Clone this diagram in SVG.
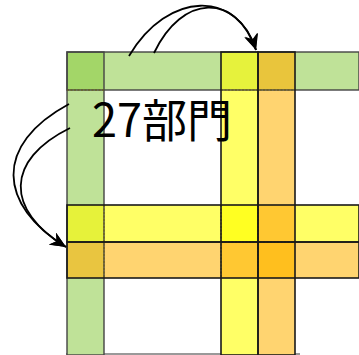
<svg xmlns="http://www.w3.org/2000/svg" width="359" height="355" viewBox="0 0 359 355">
<style>
.g{fill:#bfe298}
.y{fill:#ffff66}
.o{fill:#ffd470}
.bd{fill:none;stroke:#1a1a1a;stroke-width:1.6}
.gb{fill:none;stroke:#444;stroke-width:1.4}
.dot{fill:none;stroke:#6a5a10;stroke-width:1;stroke-dasharray:2 1.5}
.arr{fill:none;stroke:#000;stroke-width:1.8}
.lbl{font-family:"Noto Sans CJK JP","Noto Sans",sans-serif;font-size:46px;fill:#000}
</style>
<defs>
<marker id="ah" markerUnits="userSpaceOnUse" markerWidth="17" markerHeight="14" refX="16" refY="7" orient="auto">
<path d="M0,0 L16,7 L0,14 L5,7 z" fill="#000"/>
</marker>
</defs>
<line x1="66" y1="354" x2="300" y2="354" stroke="#777" stroke-width="1.5"/>
<g id="green-bars">
<rect class="g" x="67" y="52" width="292" height="38"/>
<rect class="g" x="67" y="52" width="37" height="303"/>
<rect x="67" y="52" width="37" height="38" fill="#a3d668"/>
</g>
<g id="yellow-h">
<rect class="y" x="67" y="205" width="292" height="37"/>
</g>
<g id="orange-h">
<rect class="o" x="67" y="242" width="292" height="36"/>
</g>
<g id="yellow-v">
<rect class="y" x="221" y="52" width="37" height="303"/>
</g>
<g id="orange-v">
<rect class="o" x="258" y="52" width="37" height="303"/>
</g>
<g id="overlaps">
<rect x="221" y="52" width="37" height="38" fill="#e6f23c"/>
<rect x="258" y="52" width="37" height="38" fill="#e9c53c"/>
<rect x="67" y="205" width="37" height="37" fill="#e6f23a"/>
<rect x="67" y="242" width="37" height="36" fill="#e9c540"/>
<rect x="221" y="205" width="37" height="37" fill="#ffff22"/>
<rect x="258" y="205" width="37" height="37" fill="#ffc832"/>
<rect x="221" y="242" width="37" height="36" fill="#ffc832"/>
<rect x="258" y="242" width="37" height="36" fill="#ffbf1e"/>
</g>
<g id="outlines">
<rect class="gb" x="67" y="52" width="37" height="303"/>
<rect class="gb" x="67" y="52" width="292" height="38"/>
<line class="dot" x1="67" y1="90" x2="104" y2="90"/>
<line class="dot" x1="221" y1="90" x2="295" y2="90"/>
<line class="dot" x1="104" y1="205" x2="104" y2="278"/>
<line class="dot" x1="221" y1="205" x2="221" y2="278"/>
<line class="dot" x1="258" y1="205" x2="258" y2="278"/>
<line class="dot" x1="221" y1="242" x2="295" y2="242"/>
<rect class="bd" x="67" y="205" width="292" height="37"/>
<rect class="bd" x="67" y="242" width="292" height="36"/>
<rect class="bd" x="221" y="52" width="37" height="303"/>
<rect class="bd" x="258" y="52" width="37" height="303"/>
</g>
<g id="label">
<text class="lbl" x="92" y="137" textLength="140" lengthAdjust="spacingAndGlyphs">27部門</text>
</g>
<g id="connectors">
<path class="arr" d="M129,56 C168,-10 238,-10 256,50" marker-end="url(#ah)"/>
<path class="arr" d="M154,53 C182,-6 236,-8 256,50" marker-end="url(#ah)"/>
<path class="arr" d="M69,104 C-7,145 -2,205 66,247" marker-end="url(#ah)"/>
<path class="arr" d="M70,128 C5,160 5,210 66,247" marker-end="url(#ah)"/>
</g>
</svg>
